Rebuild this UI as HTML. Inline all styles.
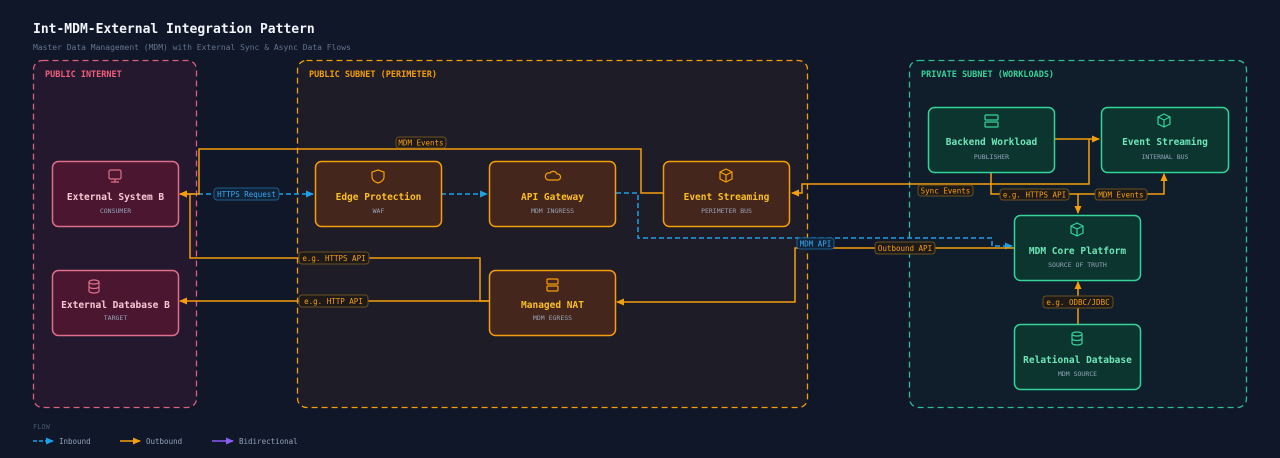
<!DOCTYPE html>
<html><head><meta charset="utf-8"><style>
html,body{margin:0;padding:0;background:#0f1729;}
svg{display:block;font-family:"DejaVu Sans Mono","Liberation Mono",monospace;}
</style></head><body>
<svg width="1280" height="458" viewBox="0 0 1280 458" xmlns="http://www.w3.org/2000/svg">
<defs>
<marker id="ao" markerWidth="8" markerHeight="8" refX="7" refY="4" orient="auto" markerUnits="userSpaceOnUse"><path d="M0,0.5 L8,4 L0,7.5 Z" fill="#f59e0b"/></marker>
<marker id="ab" markerWidth="8" markerHeight="8" refX="7" refY="4" orient="auto" markerUnits="userSpaceOnUse"><path d="M0,0.5 L8,4 L0,7.5 Z" fill="#1ea0e6"/></marker>
<marker id="ap" markerWidth="8" markerHeight="8" refX="7" refY="4" orient="auto" markerUnits="userSpaceOnUse"><path d="M0,0.5 L8,4 L0,7.5 Z" fill="#8b5cf6"/></marker>
</defs>
<rect width="1280" height="458" fill="#0f1729"/>
<text x="33" y="33" fill="#f1f5f9" font-size="13" font-weight="bold">Int-MDM-External Integration Pattern</text>
<text x="33" y="50" fill="#64748b" font-size="8">Master Data Management (MDM) with External Sync &amp; Async Data Flows</text>

<rect x="33.5" y="60.5" width="163" height="347" rx="9" fill="#23182d" stroke="#d9607d" stroke-width="1.3" stroke-dasharray="6,4"/>
<text x="45" y="77" fill="#f0607e" font-size="8.5" font-weight="bold">PUBLIC INTERNET</text>
<rect x="297.5" y="60.5" width="510" height="347" rx="9" fill="#1e1c27" stroke="#f59e0b" stroke-width="1.3" stroke-dasharray="6,4"/>
<text x="309" y="77" fill="#f59e0b" font-size="8.5" font-weight="bold">PUBLIC SUBNET (PERIMETER)</text>
<rect x="909.5" y="60.5" width="337" height="347" rx="9" fill="#0f1e2a" stroke="#2fbf95" stroke-width="1.3" stroke-dasharray="6,4"/>
<text x="921" y="77" fill="#34d399" font-size="8.5" font-weight="bold">PRIVATE SUBNET (WORKLOADS)</text>

<g fill="none" stroke-width="1.5">
<path d="M190,194 L313,194" stroke="#1ea0e6" stroke-dasharray="5,3" marker-end="url(#ab)"/>
<path d="M441,194 L487,194" stroke="#1ea0e6" stroke-dasharray="5,3" marker-end="url(#ab)"/>
<path d="M616,193 L638,193 L638,238 L992,238 L992,246 L1012,246" stroke="#1ea0e6" stroke-dasharray="5,3" marker-end="url(#ab)"/>
<path d="M663,193 L641,193 L641,149 L199,149 L199,194 L180,194" stroke="#f59e0b" marker-end="url(#ao)"/>
<path d="M1014,248 L795,248 L795,302 L617,302" stroke="#f59e0b" marker-end="url(#ao)"/>
<path d="M489,301 L480,301 L480,258 L190,258 L190,194 L180,194" stroke="#f59e0b" marker-end="url(#ao)"/>
<path d="M489,301 L180,301" stroke="#f59e0b" marker-end="url(#ao)"/>
<path d="M1054,139 L1099,139" stroke="#f59e0b" marker-end="url(#ao)"/>
<path d="M1089,139 L1089,184 L802,184 L802,193 L792,193" stroke="#f59e0b" marker-end="url(#ao)"/>
<path d="M991,172 L991,194 L1078,194 L1078,213" stroke="#f59e0b" marker-end="url(#ao)"/>
<path d="M1078,194 L1164,194 L1164,174" stroke="#f59e0b" marker-end="url(#ao)"/>
<path d="M1078,324 L1078,282" stroke="#f59e0b" marker-end="url(#ao)"/>
</g>

<g font-size="7.5" text-anchor="middle">
<rect x="214" y="188" width="65" height="12" rx="3" fill="#0f2238" stroke="#1e5f8a"/><text x="246.5" y="197" fill="#38a8f0">HTTPS Request</text>
<rect x="396" y="137" width="50" height="11" rx="3" fill="#1e1a1a" stroke="#6b5020"/><text x="421" y="145.5" fill="#f59e0b">MDM Events</text>
<rect x="299" y="252" width="70" height="12" rx="3" fill="#1e1a1a" stroke="#6b5020"/><text x="334" y="261" fill="#f59e0b">e.g. HTTPS API</text>
<rect x="299" y="295" width="69" height="12" rx="3" fill="#1e1a1a" stroke="#6b5020"/><text x="333.5" y="304" fill="#f59e0b">e.g. HTTP API</text>
<rect x="797" y="238" width="37" height="11" rx="3" fill="#0f2238" stroke="#1e5f8a"/><text x="815.5" y="246.5" fill="#38a8f0">MDM API</text>
<rect x="875" y="242" width="60" height="12" rx="3" fill="#1e1a1a" stroke="#6b5020"/><text x="905" y="251" fill="#f59e0b">Outbound API</text>
<rect x="918" y="185" width="55" height="11" rx="3" fill="#1e1a1a" stroke="#6b5020"/><text x="945.5" y="193.5" fill="#f59e0b">Sync Events</text>
<rect x="1000" y="189" width="69" height="11" rx="3" fill="#1e1a1a" stroke="#6b5020"/><text x="1034.5" y="197.5" fill="#f59e0b">e.g. HTTPS API</text>
<rect x="1095" y="189" width="52" height="11" rx="3" fill="#1e1a1a" stroke="#6b5020"/><text x="1121" y="197.5" fill="#f59e0b">MDM Events</text>
<rect x="1043" y="296" width="70" height="12" rx="3" fill="#1e1a1a" stroke="#6b5020"/><text x="1078" y="305" fill="#f59e0b">e.g. ODBC/JDBC</text>
</g>

<g text-anchor="middle">
<rect x="52.5" y="161.5" width="126" height="65" rx="6" fill="#4a1630" stroke="#e0708a" stroke-width="1.5"/>
<rect x="109" y="170" width="12" height="9" rx="1.5" fill="none" stroke="#e0708a" stroke-width="1.2"/><path d="M115,179 V182 M111,182 H119" stroke="#e0708a" stroke-width="1.2"/>
<text x="115.5" y="200" fill="#f8c8d4" font-size="9.5" font-weight="bold">External System B</text>
<text x="115.5" y="213" fill="#94a3b8" font-size="6.5">CONSUMER</text>
<rect x="52.5" y="270.5" width="126" height="65" rx="6" fill="#4a1630" stroke="#e0708a" stroke-width="1.5"/>
<g fill="none" stroke="#e0708a" stroke-width="1.2"><ellipse cx="94" cy="282" rx="5" ry="2"/><path d="M89,282 V291 A5,2 0 0 0 99,291 V282 M89,286.5 A5,2 0 0 0 99,286.5"/></g>
<text x="115.5" y="308" fill="#f8c8d4" font-size="9.5" font-weight="bold">External Database B</text>
<text x="115.5" y="320" fill="#94a3b8" font-size="6.5">TARGET</text>
<g fill="#45261c" stroke="#f59e0b" stroke-width="1.5">
<rect x="315.5" y="161.5" width="126" height="65" rx="6"/>
<rect x="489.5" y="161.5" width="126" height="65" rx="6"/>
<rect x="663.5" y="161.5" width="126" height="65" rx="6"/>
<rect x="489.5" y="270.5" width="126" height="65" rx="6"/>
</g>
<g fill="none" stroke="#f59e0b" stroke-width="1.2">
<path d="M378,170 L384,172 V177 Q384,181 378,183 Q372,181 372,177 V172 Z"/>
<path d="M548,180 H558 A3,3 0 0 0 557,174 A4,4 0 0 0 550,173 A3.5,3.5 0 0 0 548,180 Z"/>
<path d="M726,169 L732,172 V179 L726,182 L720,179 V172 Z M720,172 L726,175 L732,172 M726,175 V182"/>
<rect x="547" y="279" width="11" height="5" rx="1"/><rect x="547" y="286" width="11" height="5" rx="1"/>
</g>
<text x="378.5" y="200" fill="#fbbf24" font-size="9.5" font-weight="bold">Edge Protection</text>
<text x="378.5" y="213" fill="#94a3b8" font-size="6.5">WAF</text>
<text x="552.5" y="200" fill="#fbbf24" font-size="9.5" font-weight="bold">API Gateway</text>
<text x="552.5" y="213" fill="#94a3b8" font-size="6.5">MDM INGRESS</text>
<text x="726.5" y="200" fill="#fbbf24" font-size="9.5" font-weight="bold">Event Streaming</text>
<text x="726.5" y="213" fill="#94a3b8" font-size="6.5">PERIMETER BUS</text>
<text x="552.5" y="308" fill="#fbbf24" font-size="9.5" font-weight="bold">Managed NAT</text>
<text x="552.5" y="320" fill="#94a3b8" font-size="6.5">MDM EGRESS</text>
<g fill="#0c3530" stroke="#34d399" stroke-width="1.5">
<rect x="928.5" y="107.5" width="126" height="65" rx="6"/>
<rect x="1101.5" y="107.5" width="127" height="65" rx="6"/>
<rect x="1014.5" y="215.5" width="126" height="65" rx="6"/>
<rect x="1014.5" y="324.5" width="126" height="65" rx="6"/>
</g>
<g fill="none" stroke="#34d399" stroke-width="1.2">
<rect x="985" y="115" width="13" height="5" rx="1"/><rect x="985" y="122" width="13" height="5" rx="1"/>
<path d="M1164,114 L1170,117 V124 L1164,127 L1158,124 V117 Z M1158,117 L1164,120 L1170,117 M1164,120 V127"/>
<path d="M1077,223 L1083,226 V233 L1077,236 L1071,233 V226 Z M1071,226 L1077,229 L1083,226 M1077,229 V236"/>
<ellipse cx="1077" cy="334" rx="5" ry="2"/><path d="M1072,334 V343 A5,2 0 0 0 1082,343 V334 M1072,338.5 A5,2 0 0 0 1082,338.5"/>
</g>
<text x="991.5" y="145" fill="#6ee7b7" font-size="9.5" font-weight="bold">Backend Workload</text>
<text x="991.5" y="159" fill="#94a3b8" font-size="6.5">PUBLISHER</text>
<text x="1165" y="145" fill="#6ee7b7" font-size="9.5" font-weight="bold">Event Streaming</text>
<text x="1165" y="159" fill="#94a3b8" font-size="6.5">INTERNAL BUS</text>
<text x="1077.5" y="254" fill="#6ee7b7" font-size="9.5" font-weight="bold">MDM Core Platform</text>
<text x="1077.5" y="267" fill="#94a3b8" font-size="6.5">SOURCE OF TRUTH</text>
<text x="1077.5" y="363" fill="#6ee7b7" font-size="9.5" font-weight="bold">Relational Database</text>
<text x="1077.5" y="376" fill="#94a3b8" font-size="6.5">MDM SOURCE</text>
</g>

<text x="33" y="429" fill="#475569" font-size="7">FLOW</text>
<path d="M33,441 L53,441" stroke="#1ea0e6" stroke-width="1.5" stroke-dasharray="4,2" marker-end="url(#ab)"/>
<text x="59" y="444" fill="#94a3b8" font-size="7.5">Inbound</text>
<path d="M120,441 L140,441" stroke="#f59e0b" stroke-width="1.5" marker-end="url(#ao)"/>
<text x="146" y="444" fill="#94a3b8" font-size="7.5">Outbound</text>
<path d="M212,441 L233,441" stroke="#8b5cf6" stroke-width="1.5" marker-end="url(#ap)"/>
<text x="239" y="444" fill="#94a3b8" font-size="7.5">Bidirectional</text>
</svg>
</body></html>
